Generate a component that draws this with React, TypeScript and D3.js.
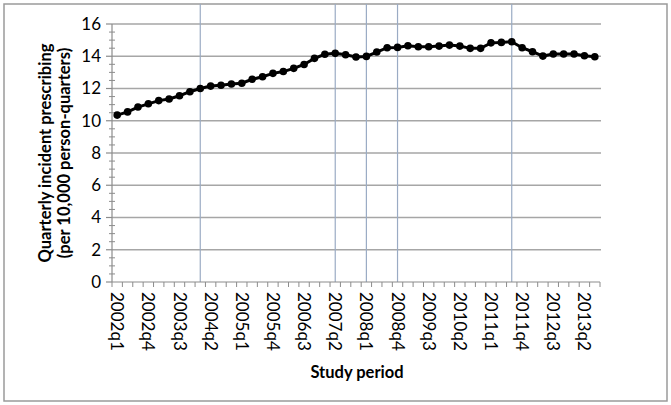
import React, { useRef, useEffect } from "react";
import * as d3 from "d3";

// quarters 2002q1 .. 2013q3
const quarters: string[] = [];
for (let y = 2002; y <= 2013; y++) {
  for (let q = 1; q <= 4; q++) {
    if (y === 2013 && q === 4) break;
    quarters.push(`${y}q${q}`);
  }
}

const rates = [
  10.35, 10.55, 10.85, 11.05, 11.25, 11.35, 11.55, 11.8, 12.0, 12.15,
  12.2, 12.28, 12.33, 12.57, 12.73, 12.94, 13.05, 13.25, 13.49, 13.87,
  14.12, 14.18, 14.09, 13.95, 13.99, 14.26, 14.53, 14.55, 14.65, 14.59,
  14.59, 14.63, 14.69, 14.63, 14.49, 14.49, 14.83, 14.86, 14.9, 14.53,
  14.28, 14.01, 14.14, 14.14, 14.14, 14.03, 13.97,
];

// vertical reference lines (events)
const eventQuarters = ["2004q1", "2007q2", "2008q1", "2008q4", "2011q3"];

const yTicks = [0, 2, 4, 6, 8, 10, 12, 14, 16];

const App = () => {
  const ref = useRef<SVGSVGElement>(null);

  useEffect(() => {
    const W = 671;
    const H = 405;
    const svg = d3.select(ref.current);
    svg.selectAll("*").remove();
    const font = "Lato, 'Open Sans', sans-serif";

    const x = d3.scaleBand().domain(quarters).range([112, 600]).padding(0);
    const y = d3.scaleLinear().domain([0, 16]).range([282, 24]);
    const cx = (q: string) => (x(q) as number) + x.bandwidth() / 2;

    // outer frame
    svg
      .append("rect")
      .attr("x", 4)
      .attr("y", 4)
      .attr("width", W - 8)
      .attr("height", H - 8)
      .attr("fill", "#fff")
      .attr("stroke", "#9a9a9a")
      .attr("stroke-width", 1.5);

    // horizontal gridlines
    svg
      .append("g")
      .selectAll("line")
      .data(yTicks.filter((d) => d > 0))
      .enter()
      .append("line")
      .attr("x1", 112)
      .attr("x2", 601)
      .attr("y1", (d) => y(d))
      .attr("y2", (d) => y(d))
      .attr("stroke", "#a6a6a6")
      .attr("stroke-width", 1.4);

    // event lines
    svg
      .append("g")
      .selectAll("line")
      .data(eventQuarters)
      .enter()
      .append("line")
      .attr("x1", (d) => cx(d))
      .attr("x2", (d) => cx(d))
      .attr("y1", 4)
      .attr("y2", y(0))
      .attr("stroke", "#9aabc4")
      .attr("stroke-width", 1.2);

    // y axis
    const axisColor = "#8c8c8c";
    svg
      .append("line")
      .attr("x1", 112)
      .attr("x2", 112)
      .attr("y1", y(16))
      .attr("y2", y(0))
      .attr("stroke", axisColor)
      .attr("stroke-width", 1.2);
    svg
      .append("g")
      .selectAll("line")
      .data(yTicks)
      .enter()
      .append("line")
      .attr("x1", 106)
      .attr("x2", 112)
      .attr("y1", (d) => y(d))
      .attr("y2", (d) => y(d))
      .attr("stroke", axisColor)
      .attr("stroke-width", 1.2);
    const minor = d3.range(0, 16.01, 0.5).filter((d) => d % 2 !== 0);
    svg
      .append("g")
      .selectAll("line")
      .data(minor)
      .enter()
      .append("line")
      .attr("x1", 109)
      .attr("x2", 115)
      .attr("y1", (d) => y(d))
      .attr("y2", (d) => y(d))
      .attr("stroke", axisColor)
      .attr("stroke-width", 1);
    svg
      .append("g")
      .selectAll("text")
      .data(yTicks)
      .enter()
      .append("text")
      .attr("x", 101)
      .attr("y", (d) => y(d))
      .attr("dy", "0.35em")
      .attr("text-anchor", "end")
      .attr("font-family", font)
      .attr("font-size", 17)
      .attr("fill", "#000")
      .text((d) => d);

    // x axis
    svg
      .append("line")
      .attr("x1", 112)
      .attr("x2", 600)
      .attr("y1", y(0))
      .attr("y2", y(0))
      .attr("stroke", axisColor)
      .attr("stroke-width", 1.2);
    svg
      .append("g")
      .selectAll("line")
      .data(d3.range(quarters.length + 1))
      .enter()
      .append("line")
      .attr("x1", (i) => 112 + i * x.bandwidth())
      .attr("x2", (i) => 112 + i * x.bandwidth())
      .attr("y1", y(0))
      .attr("y2", y(0) + 5)
      .attr("stroke", axisColor)
      .attr("stroke-width", 1);
    svg
      .append("g")
      .selectAll("text")
      .data(quarters.filter((d, i) => i % 3 === 0))
      .enter()
      .append("text")
      .attr("transform", (d) => `translate(${cx(d)},${y(0) + 10}) rotate(90)`)
      .attr("dy", "0.35em")
      .attr("text-anchor", "start")
      .attr("font-family", font)
      .attr("font-size", 17)
      .attr("fill", "#000")
      .text((d) => d);

    // data line
    const line = d3
      .line<number>()
      .x((d, i) => cx(quarters[i]))
      .y((d) => y(d));
    svg
      .append("path")
      .datum(rates)
      .attr("d", line)
      .attr("fill", "none")
      .attr("stroke", "#000")
      .attr("stroke-width", 3);
    svg
      .append("g")
      .selectAll("circle")
      .data(rates)
      .enter()
      .append("circle")
      .attr("cx", (d, i) => cx(quarters[i]))
      .attr("cy", (d) => y(d))
      .attr("r", 3.8)
      .attr("fill", "#000");

    // axis titles
    const yTitle = svg
      .append("text")
      .attr("transform", `translate(55,${(y(0) + y(16)) / 2}) rotate(-90)`)
      .attr("text-anchor", "middle")
      .attr("font-family", font)
      .attr("font-size", 16.5)
      .attr("font-weight", "bold")
      .attr("fill", "#000");
    yTitle.append("tspan").attr("x", 0).attr("dy", "-0.25em").text("Quarterly incident prescribing");
    yTitle.append("tspan").attr("x", 0).attr("dy", "1.15em").text("(per 10,000 person-quarters)");

    svg
      .append("text")
      .attr("x", 357)
      .attr("y", 378)
      .attr("text-anchor", "middle")
      .attr("font-family", font)
      .attr("font-size", 16.5)
      .attr("font-weight", "bold")
      .attr("fill", "#000")
      .text("Study period");
  }, []);

  return (
    <svg
      ref={ref}
      width={671}
      height={405}
      style={{ position: "absolute", left: 0, top: 0 }}
    />
  );
};

export default App;
